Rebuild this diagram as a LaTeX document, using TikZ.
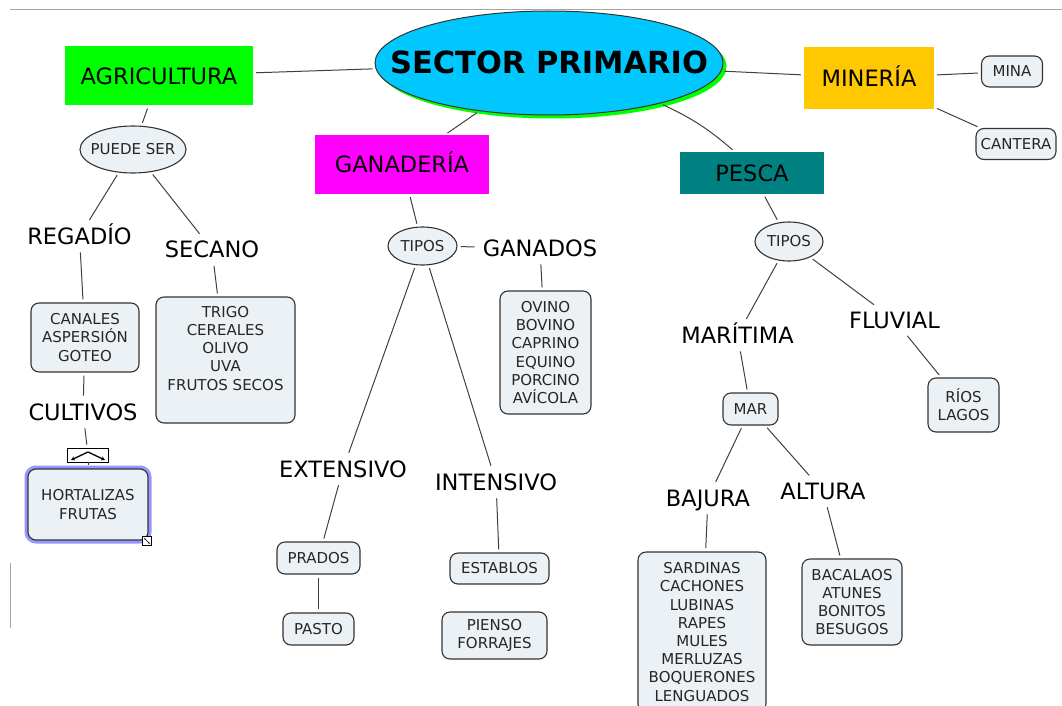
\documentclass[tikz,border=0pt]{standalone}
\usepackage{fontspec}
\setmainfont{DejaVu Sans}
\usetikzlibrary{shapes.geometric, arrows.meta, positioning}
\definecolor{cielo}{RGB}{0,200,255}
\definecolor{verde}{RGB}{0,255,0}
\definecolor{rosa}{RGB}{255,0,255}
\definecolor{marino}{RGB}{0,128,128}
\definecolor{oro}{RGB}{255,200,0}
\definecolor{fondocaja}{RGB}{235,241,244}
\definecolor{borde}{RGB}{51,51,51}
\definecolor{seleccion}{RGB}{150,150,255}
\tikzset{
  tema/.style={
    rectangle, inner sep=0pt, font=\fontsize{22.5}{27}\selectfont,
    text height=16.4pt, text depth=0pt
  },
  frase/.style={
    inner sep=5pt, font=\fontsize{22.5}{27}\selectfont,
    text height=16.4pt, text depth=0pt
  },
  caja/.style={
    rectangle, rounded corners=8pt, draw=borde, line width=1.1pt,
    fill=fondocaja, align=center, inner sep=2pt, text=black!85,
    font=\fontsize{15}{18.2}\selectfont
  },
  elipse/.style={
    ellipse, draw=borde, line width=1.1pt, fill=fondocaja, inner sep=0pt,
    text=black!85, font=\fontsize{15}{18}\selectfont
  },
  enlace/.style={
    draw=black!75, line width=1pt, shorten <=3pt, shorten >=3pt
  }
}

\begin{document}
\begin{tikzpicture}[x=1pt, y=-1pt]
    \useasboundingbox (0,0) rectangle (1062,706);
    % page lines
    \draw[gray!70, line width=1pt] (10,9.5) -- (1062,9.5);
    \draw[gray!70, line width=1pt] (10.5,563) -- (10.5,628);

    % central concept
    \fill[verde] (552.5,66.5) ellipse [x radius=174, y radius=52];
    \node[ellipse, draw=borde, line width=1pt, fill=cielo, minimum width=348pt,
          minimum height=104pt, inner xsep=-37pt, inner ysep=20pt,
          text height=22pt, text depth=0pt,
          font=\fontsize{30.5}{36}\selectfont\bfseries] (sector) at (549,63) {SECTOR PRIMARIO};

    % main branches
    \node[tema, fill=verde, minimum width=188pt, minimum height=59pt] (agri) at (159,76) {AGRICULTURA};
    \node[tema, fill=rosa, minimum width=174pt, minimum height=59pt] (gana) at (402,164.5) {GANADERÍA};
    \node[tema, fill=marino, minimum width=144pt, minimum height=42pt] (pesca) at (752,173) {PESCA};
    \node[tema, fill=oro, minimum width=130pt, minimum height=62pt] (mineria) at (869,78) {MINERÍA};

    % agricultura
    \node[elipse, minimum width=106pt, minimum height=47pt, inner xsep=-5pt] (puede) at (133,149.5) {PUEDE SER};
    \node[frase] (regadio) at (79.5,236) {REGADÍO};
    \node[frase] (secano) at (212,249.5) {SECANO};
    \node[caja, minimum width=108pt, minimum height=69pt] (canales) at (85,337.5) {CANALES\\ASPERSIÓN\\GOTEO};
    \node[caja, minimum width=139pt, minimum height=126pt] (trigo) at (225.5,360) {TRIGO\\CEREALES\\OLIVO\\UVA\\FRUTOS SECOS\\\strut};
    \node[frase] (cultivos) at (83,412) {CULTIVOS};
    \node[draw=black, fill=white, line width=0.8pt, minimum width=41pt, minimum height=14pt, inner sep=0pt] (plegar) at (88,455) {};
    \draw[line width=1.3pt, {Stealth[length=4pt,width=4pt]}-{Stealth[length=4pt,width=4pt]}]
        ([shift={(-17,5)}]plegar.center) -- ([shift={(0,-3)}]plegar.center) -- ([shift={(17,5)}]plegar.center);
    \node[caja, minimum width=120pt, minimum height=71pt,
          preaction={draw=seleccion, line width=7pt}] (hortalizas) at (88,504.5) {HORTALIZAS\\FRUTAS};
    \node[draw=black, fill=white, line width=0.6pt, minimum size=9pt, inner sep=0pt] (tirador) at (147,541) {};
    \draw[line width=0.6pt, {Stealth[length=2pt]}-{Stealth[length=2pt]}]
        ([shift={(-2,-2)}]tirador.south east) -- ([shift={(2,2)}]tirador.north west);

    % ganaderia
    \node[elipse, minimum width=69pt, minimum height=38pt] (tiposg) at (422.5,246) {TIPOS};
    \node[frase] (ganados) at (540,248) {GANADOS};
    \node[caja, minimum width=91pt, minimum height=123pt] (ovino) at (545.5,352.5) {OVINO\\BOVINO\\CAPRINO\\EQUINO\\PORCINO\\AVÍCOLA};
    \node[frase] (extensivo) at (343,469) {EXTENSIVO};
    \node[frase] (intensivo) at (496,482) {INTENSIVO};
    \node[caja, minimum width=83pt, minimum height=32pt] (prados) at (318.5,558) {PRADOS};
    \node[caja, minimum width=71pt, minimum height=32pt] (pasto) at (318.5,629) {PASTO};
    \node[caja, minimum width=99pt, minimum height=31pt] (establos) at (499.5,568.5) {ESTABLOS};
    \node[caja, minimum width=105pt, minimum height=47pt] (pienso) at (494.5,635.5) {PIENSO\\FORRAJES};

    % pesca
    \node[elipse, minimum width=68pt, minimum height=39pt] (tiposp) at (789,241.5) {TIPOS};
    \node[frase] (maritima) at (737.5,335) {MARÍTIMA};
    \node[frase] (fluvial) at (894.5,320) {FLUVIAL};
    \node[caja, minimum width=71pt, minimum height=54pt] (rios) at (963.5,405) {RÍOS\\LAGOS};
    \node[caja, minimum width=55pt, minimum height=32pt] (mar) at (750.5,409) {MAR};
    \node[frase] (bajura) at (708,498) {BAJURA};
    \node[frase] (altura) at (823,491) {ALTURA};
    \node[caja, minimum width=128pt, minimum height=160pt] (sardinas) at (702,632)
        {SARDINAS\\CACHONES\\LUBINAS\\RAPES\\MULES\\MERLUZAS\\BOQUERONES\\LENGUADOS};
    \node[caja, minimum width=100pt, minimum height=86pt] (bacalaos) at (852,602) {BACALAOS\\ATUNES\\BONITOS\\BESUGOS};

    % mineria
    \node[caja, minimum width=61pt, minimum height=31pt] (mina) at (1012,71.5) {MINA};
    \node[caja, minimum width=80pt, minimum height=31pt] (cantera) at (1016,144) {CANTERA};

    % links
    \draw[enlace] (agri) -- (sector);
    \draw[enlace] (sector) -- (gana);
    \draw[enlace] (sector.-20) to[bend left=8] (pesca.129);
    \draw[enlace] (sector) -- (mineria);
    \draw[enlace] (mineria) -- (mina);
    \draw[enlace] (mineria) -- (cantera);

    \draw[enlace] (agri) -- (puede);
    \draw[enlace] (puede) -- (regadio);
    \draw[enlace] (puede) -- (secano);
    \draw[enlace] (regadio) -- (canales);
    \draw[enlace] (secano) -- (trigo);
    \draw[enlace] (canales) -- (cultivos);
    \draw[enlace] (cultivos) -- (plegar);
    \draw[enlace, shorten <=0pt] (plegar) -- (hortalizas);

    \draw[enlace] (gana) -- (tiposg);
    \draw[enlace] (tiposg) -- (ganados);
    \draw[enlace] (ganados) -- (ovino);
    \draw[enlace] (tiposg) -- (extensivo);
    \draw[enlace] (tiposg) -- (intensivo);
    \draw[enlace] (extensivo) -- (prados);
    \draw[enlace] (prados) -- (pasto);
    \draw[enlace] (intensivo) -- (establos);

    \draw[enlace] (pesca) -- (tiposp);
    \draw[enlace] (tiposp) -- (maritima);
    \draw[enlace] (tiposp) -- (fluvial);
    \draw[enlace] (fluvial) -- (rios);
    \draw[enlace] (maritima) -- (mar);
    \draw[enlace] (mar) -- (bajura);
    \draw[enlace] (mar) -- (altura);
    \draw[enlace] (bajura) -- (sardinas);
    \draw[enlace] (altura) -- (bacalaos);
\end{tikzpicture}
\end{document}
